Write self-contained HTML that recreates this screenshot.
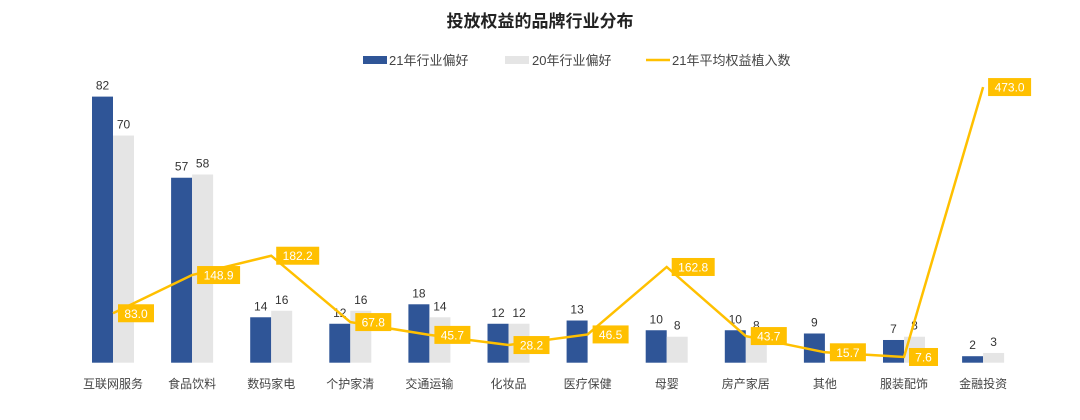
<!DOCTYPE html>
<html><head><meta charset="utf-8">
<style>
body{margin:0;background:#fff;width:1080px;height:415px;overflow:hidden;font-family:"Liberation Sans","Noto Sans CJK SC",sans-serif;}
svg text{font-family:"Liberation Sans","Noto Sans CJK SC",sans-serif;}
</style></head>
<body>
<svg id="chart" width="1080" height="415">
<text x="540" y="27" text-anchor="middle" font-size="17" font-weight="bold" fill="#222">投放权益的品牌行业分布</text>
<g>
<rect x="363" y="56" width="24" height="8" fill="#2F5597"/>
<text x="389" y="65" font-size="13" fill="#444">21年行业偏好</text>
<rect x="505" y="56" width="24" height="8" fill="#E5E5E5"/>
<text x="532" y="65" font-size="13" fill="#444">20年行业偏好</text>
<line x1="646" y1="60" x2="670" y2="60" stroke="#FFC000" stroke-width="2.5"/>
<text x="672" y="65" font-size="13" fill="#444">21年平均权益植入数</text>
</g>
<g id="plot"></g>
</svg>
<script>
const categories=["互联网服务","食品饮料","数码家电","个护家清","交通运输","化妆品","医疗保健","母婴","房产家居","其他","服装配饰","金融投资"];
const bars21=[82,57,14,12,18,12,13,10,10,9,7,2];
const bars20=[70,58,16,16,14,12,null,8,8,null,8,3];
const lineVals=[83.0,148.9,182.2,67.8,45.7,28.2,46.5,162.8,43.7,15.7,7.6,473.0];
const base=362.7, barK=3.245, lineBase=361.4, lineK=0.580;
const x0=113, step=79.1, bw=21;
const cx=i=>x0+i*step;
const yb=v=>base-v*barK;
const yl=v=>lineBase-v*lineK;
const g=document.getElementById('plot');
const NS="http://www.w3.org/2000/svg";
function mk(t,a){const e=document.createElementNS(NS,t);for(const k in a)e.setAttribute(k,a[k]);g.appendChild(e);return e;}
categories.forEach((c,i)=>{
  const b=mk('rect',{x:cx(i)-bw,y:yb(bars21[i]),width:bw,height:base-yb(bars21[i]),fill:'#2F5597'});
  
  
  const t=mk('text',{x:cx(i)-bw/2,y:yb(bars21[i])-7,'text-anchor':'middle','font-size':12,fill:'#333'});
  t.textContent=bars21[i];
  
  
  if(bars20[i]!==null){
    const b2=mk('rect',{x:cx(i),y:yb(bars20[i]),width:bw,height:base-yb(bars20[i]),fill:'#E5E5E5'});
    
    
    const t2=mk('text',{x:cx(i)+bw/2,y:yb(bars20[i])-7,'text-anchor':'middle','font-size':12,fill:'#333'});
    t2.textContent=bars20[i];
    
    
  }
  const l=mk('text',{x:cx(i),y:388,'text-anchor':'middle','font-size':12,fill:'#444'});
  l.textContent=c;
  
  
});
const pts=lineVals.map((v,i)=>cx(i)+','+yl(v)).join(' ');
const pl=mk('polyline',{points:pts,fill:'none',stroke:'#FFC000','stroke-width':2.5});


lineVals.forEach((v,i)=>{
  const s=v.toFixed(1), w=s.length*7+8;
  const r=mk('rect',{x:cx(i)+5,y:yl(v)-9,width:w,height:18,fill:'#FFC000'});
  
  
  const t=mk('text',{x:cx(i)+5+w/2,y:yl(v)+4.5,'text-anchor':'middle','font-size':12,fill:'#fff'});
  t.textContent=s;
  
  
});
</script>
</body></html>
